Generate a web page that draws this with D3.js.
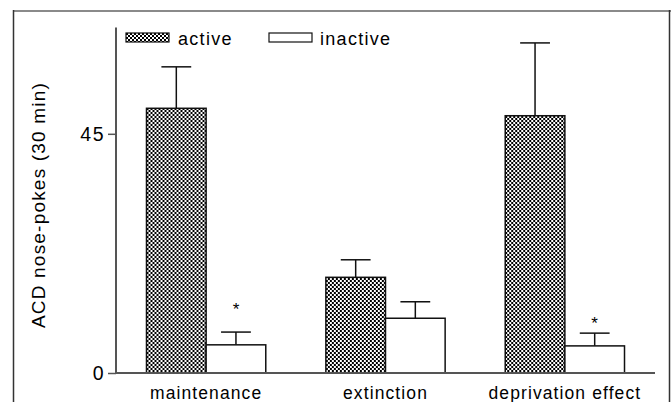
<!DOCTYPE html>
<html>
<head>
<meta charset="utf-8">
<script src="https://cdn.jsdelivr.net/npm/d3@7"></script>
<style>
	body { margin: 0; background: #fff; }
	svg { display: block; font-family: Arial, 'Liberation Sans', sans-serif; }
</style>
</head>
<body>
<div id="chart"></div>
<script>
/* global d3 */

const groups = ['maintenance', 'extinction', 'deprivation effect'];
const series = ['active', 'inactive'];
const activeMeans = [49.8, 18.0, 48.4];
const activeErrors = [7.8, 3.3, 13.7];
const inactiveMeans = [5.3, 10.3, 5.1];
const inactiveErrors = [2.4, 3.1, 2.4];
const starOffsets = [5, null, 2.6]; // value units above the error cap, null = no star
const yTicks = [0, 45];

const width = 671;
const height = 402;

const margins = {
	left: 116,
	right: 16,
	top: 27.5,
	bottom: 29,
};

const svg = d3.select('#chart').append('svg')
	.attr('width', width)
	.attr('height', height);

// checkered fill used for the active bars
const defs = svg.append('defs');
const pattern = defs.append('pattern')
	.attr('id', 'checker')
	.attr('patternUnits', 'userSpaceOnUse')
	.attr('width', 4)
	.attr('height', 4);
pattern.append('rect').attr('width', 4).attr('height', 4).attr('fill', '#fff');
pattern.append('rect').attr('width', 2).attr('height', 2).attr('fill', '#000');
pattern.append('rect').attr('x', 2).attr('y', 2).attr('width', 2).attr('height', 2).attr('fill', '#000');

// outer frame
svg.append('line')
	.attr('x1', 13).attr('x2', width).attr('y1', 11).attr('y2', 11)
	.attr('stroke', '#8a8a8a').attr('stroke-width', 2);
svg.append('line')
	.attr('x1', 13.5).attr('x2', 13.5).attr('y1', 10).attr('y2', height)
	.attr('stroke', '#333').attr('stroke-width', 1.5);
svg.append('line')
	.attr('x1', 669.5).attr('x2', 669.5).attr('y1', 10).attr('y2', height)
	.attr('stroke', '#333').attr('stroke-width', 1.5);

const plotBottom = 373;
const x0 = d3.scaleBand()
	.domain(groups)
	.range([margins.left, width - margins.right])
	.paddingInner(0.335)
	.paddingOuter(0.17);

const x1 = d3.scaleBand()
	.domain(series)
	.range([0, x0.bandwidth()]);

const y = d3.scaleLinear()
	.domain([0, 65])
	.range([plotBottom, margins.top]);

const barData = [];
groups.forEach((g, i) => {
	barData.push({group: g, key: 'active', value: activeMeans[i], err: activeErrors[i], star: null});
	barData.push({group: g, key: 'inactive', value: inactiveMeans[i], err: inactiveErrors[i], star: starOffsets[i]});
});

const bar = svg.selectAll('.bar')
	.data(barData)
	.enter().append('g')
	.attr('class', 'bar')
	.attr('transform', d => `translate(${x0(d.group) + x1(d.key)},0)`);

// error bars (upper half only)
bar.append('line')
	.attr('x1', x1.bandwidth() / 2).attr('x2', x1.bandwidth() / 2)
	.attr('y1', d => y(d.value)).attr('y2', d => y(d.value + d.err))
	.attr('stroke', '#111').attr('stroke-width', 1.5);
bar.append('line')
	.attr('x1', x1.bandwidth() / 4).attr('x2', x1.bandwidth() * 3 / 4)
	.attr('y1', d => y(d.value + d.err)).attr('y2', d => y(d.value + d.err))
	.attr('stroke', '#111').attr('stroke-width', 1.5);

bar.append('rect')
	.attr('y', d => y(d.value))
	.attr('width', x1.bandwidth())
	.attr('height', d => y(0) - y(d.value))
	.attr('fill', d => d.key === 'active' ? 'url(#checker)' : '#fff')
	.attr('stroke', '#111')
	.attr('stroke-width', 1.5);

bar.filter(d => d.star !== null)
	.append('text')
	.attr('x', x1.bandwidth() / 2)
	.attr('y', d => y(d.value + d.err + d.star) + 10)
	.attr('text-anchor', 'middle')
	.attr('font-size', 17)
	.text('*');

// axes
const yAxis = d3.axisLeft(y)
	.tickValues(yTicks)
	.tickSize(8)
	.tickPadding(3);

const yAxisG = svg.append('g')
	.attr('transform', `translate(${margins.left},0)`)
	.call(yAxis);
yAxisG.select('.domain')
	.attr('d', `M0,${margins.top}V${plotBottom}`)
	.attr('stroke', '#555').attr('stroke-width', 2);
yAxisG.selectAll('.tick line').attr('stroke', '#555').attr('stroke-width', 1.5);
yAxisG.selectAll('.tick text')
	.attr('font-size', 19.5)
	.attr('font-family', 'Arial, Liberation Sans, sans-serif')
	.attr('letter-spacing', 1.5)
	.attr('fill', '#000');

const xAxisG = svg.append('g')
	.attr('transform', `translate(0,${plotBottom})`)
	.call(d3.axisBottom(x0).tickSize(0).tickPadding(14));
xAxisG.select('.domain')
	.attr('d', `M${margins.left},0H${width - margins.right}`)
	.attr('stroke', '#555').attr('stroke-width', 2);
xAxisG.selectAll('.tick text')
	.attr('font-size', 17.5)
	.attr('font-family', 'Arial, Liberation Sans, sans-serif')
	.attr('letter-spacing', 1.1)
	.attr('fill', '#000');

// y axis title
svg.append('text')
	.attr('transform', `translate(45,205) rotate(-90)`)
	.attr('text-anchor', 'middle')
	.attr('font-size', 19)
	.attr('letter-spacing', 1.2)
	.text('ACD nose-pokes (30 min)');

// legend
const legendItems = [
	{key: 'active', x: 126, fill: 'url(#checker)'},
	{key: 'inactive', x: 269, fill: '#fff'},
];
const legend = svg.selectAll('.legend')
	.data(legendItems)
	.enter().append('g')
	.attr('class', 'legend')
	.attr('transform', d => `translate(${d.x},33)`);
legend.append('rect')
	.attr('width', 43)
	.attr('height', 9)
	.attr('fill', d => d.fill)
	.attr('stroke', '#111')
	.attr('stroke-width', 1.2);
legend.append('text')
	.attr('x', d => d.key === 'active' ? 52 : 51)
	.attr('y', 12)
	.attr('font-size', 18)
	.attr('letter-spacing', 1.3)
	.text(d => d.key);
</script>
</body>
</html>
